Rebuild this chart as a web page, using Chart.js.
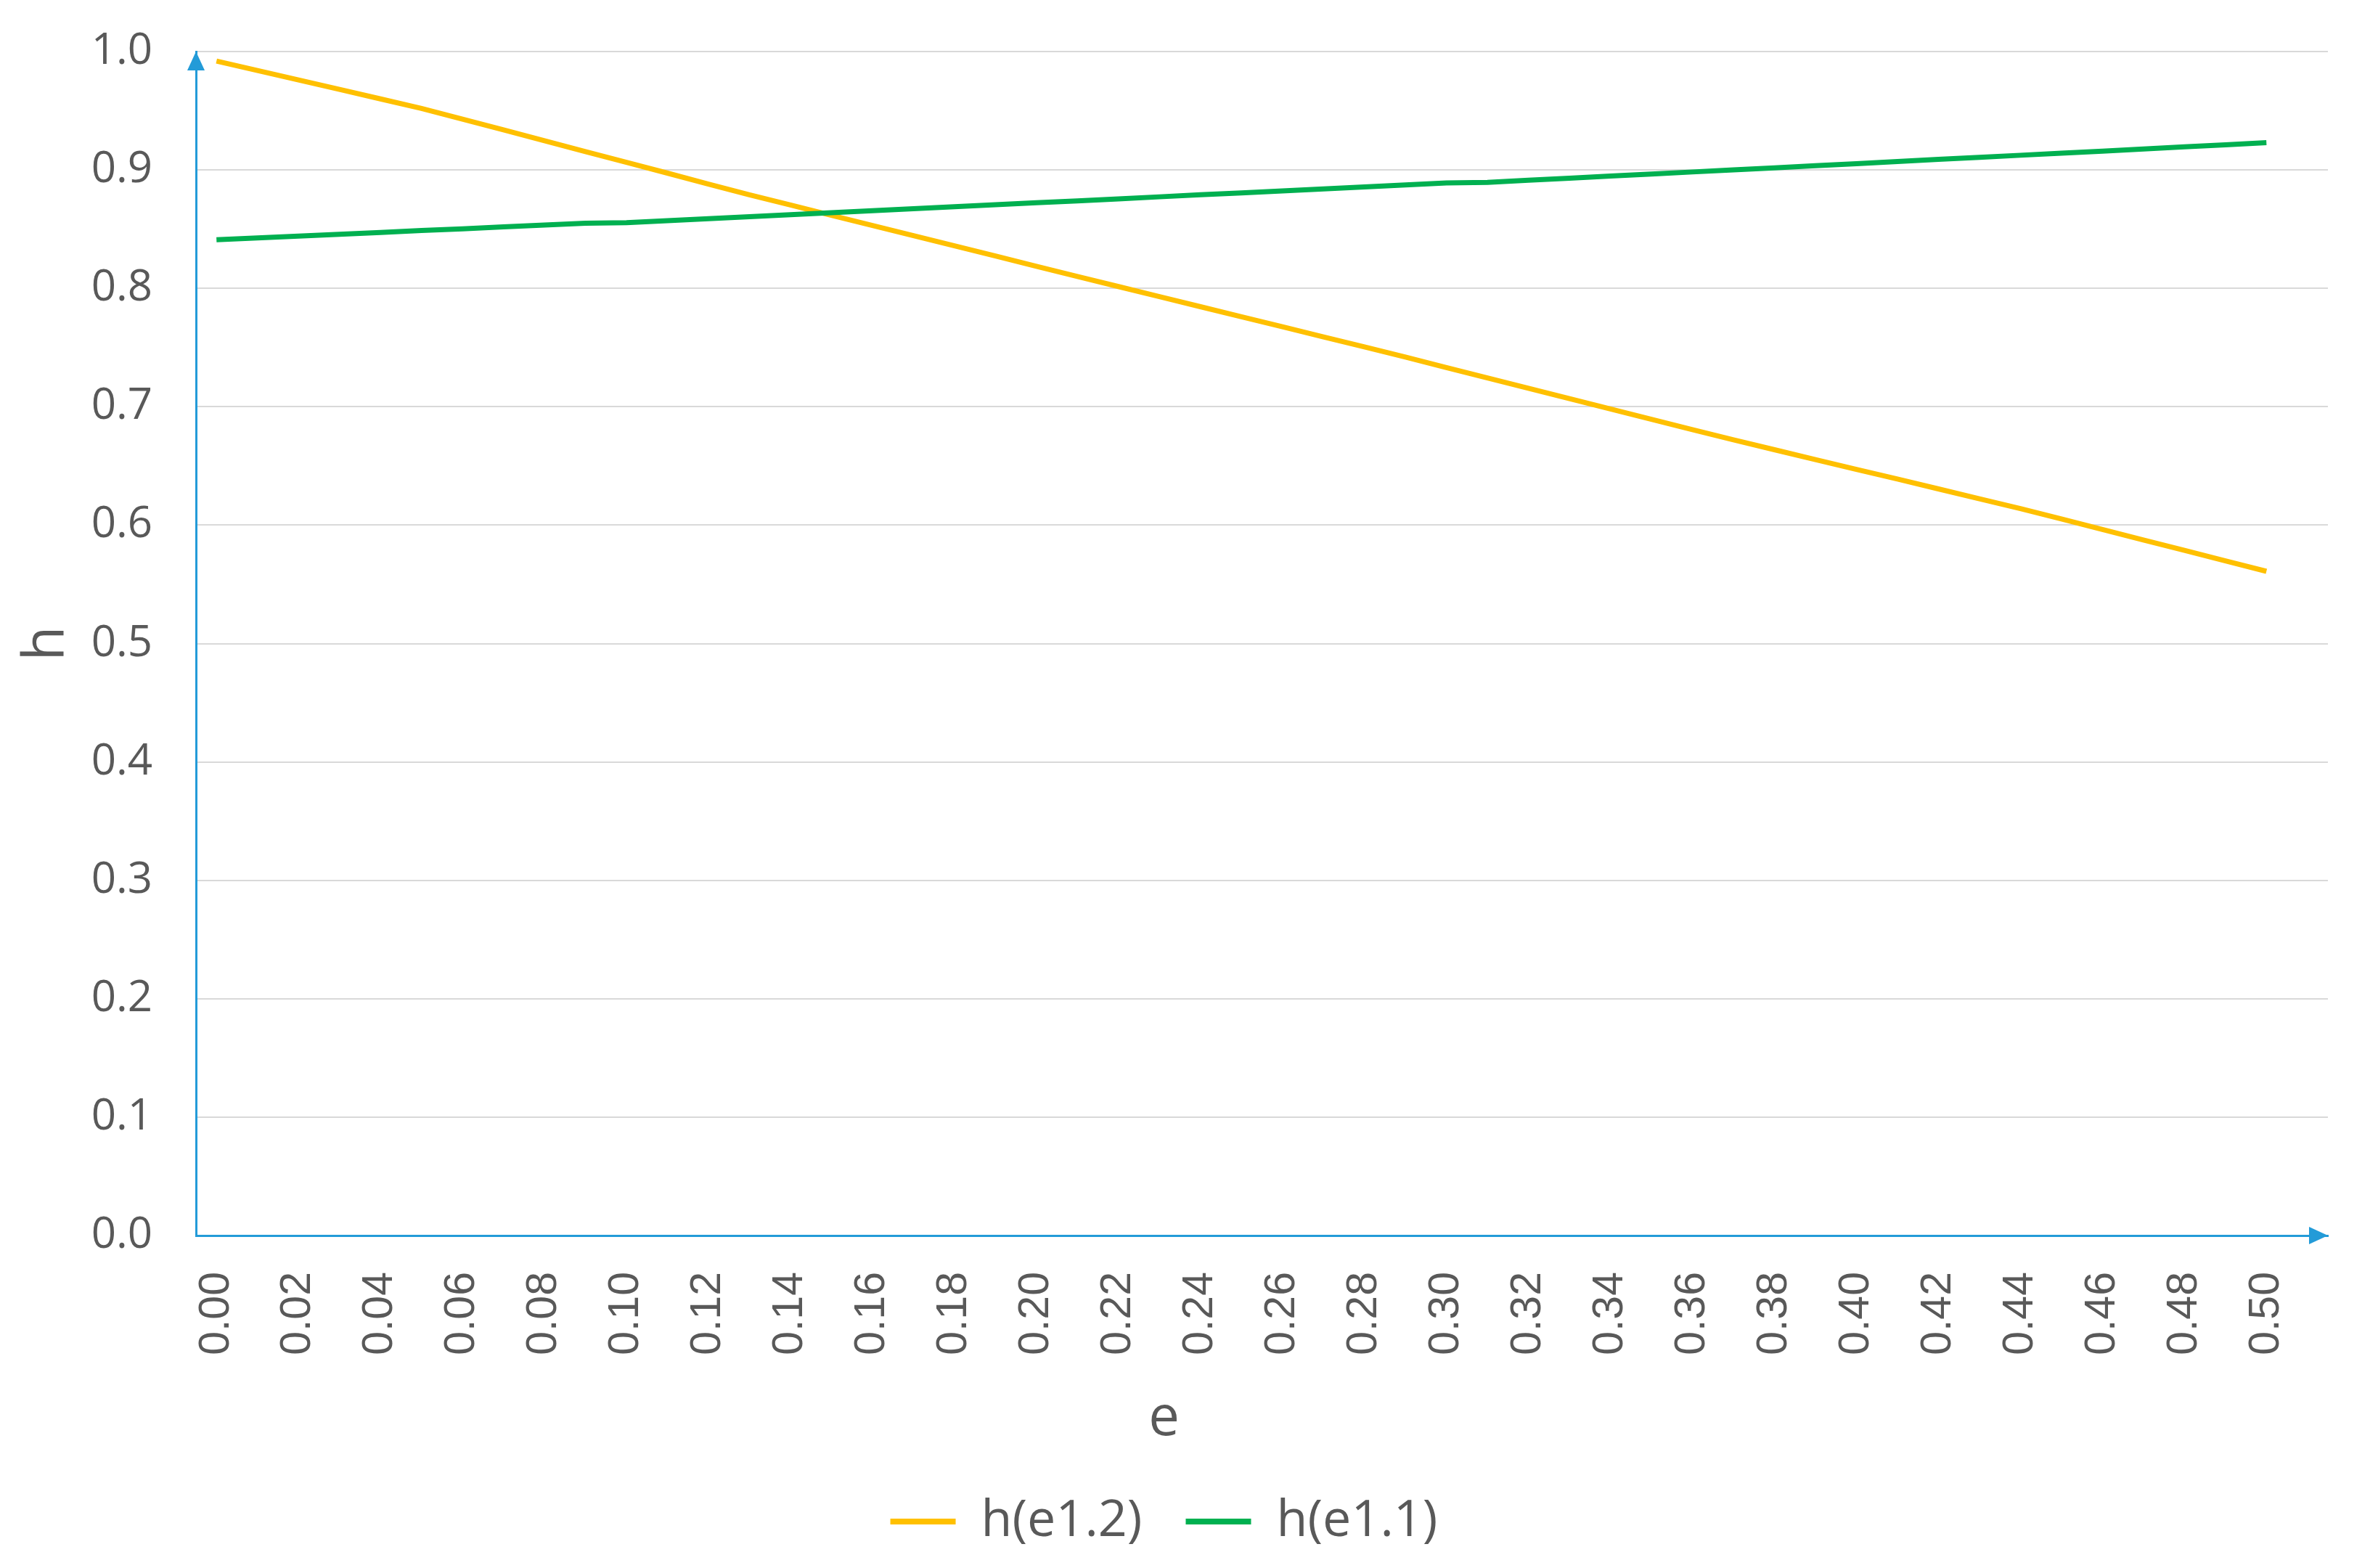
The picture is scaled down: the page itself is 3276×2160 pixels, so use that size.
<!DOCTYPE html>
<html>
<head>
<meta charset="utf-8">
<script src="https://cdn.jsdelivr.net/npm/chart.js@4/dist/chart.umd.min.js"></script>
<style>
  html, body { margin: 0; padding: 0; background: #fff; }
  #wrap { width: 3276px; height: 2160px; }
</style>
</head>
<body>
<div id="wrap"><canvas id="chart" width="3276" height="2160"></canvas></div>
<script>
const eValues = [0.00, 0.01, 0.02, 0.03, 0.04, 0.05, 0.06, 0.07, 0.08, 0.09,
  0.10, 0.11, 0.12, 0.13, 0.14, 0.15, 0.16, 0.17, 0.18, 0.19,
  0.20, 0.21, 0.22, 0.23, 0.24, 0.25, 0.26, 0.27, 0.28, 0.29,
  0.30, 0.31, 0.32, 0.33, 0.34, 0.35, 0.36, 0.37, 0.38, 0.39,
  0.40, 0.41, 0.42, 0.43, 0.44, 0.45, 0.46, 0.47, 0.48, 0.49, 0.50];

const hE12 = [0.9920, 0.9840, 0.9760, 0.9680, 0.9600, 0.9520, 0.9429, 0.9338, 0.9246, 0.9155,
  0.9064, 0.8973, 0.8881, 0.8790, 0.8704, 0.8617, 0.8531, 0.8445, 0.8359, 0.8273,
  0.8186, 0.8100, 0.8015, 0.7930, 0.7845, 0.7760, 0.7675, 0.7590, 0.7505, 0.7420,
  0.7330, 0.7243, 0.7156, 0.7069, 0.6981, 0.6894, 0.6807, 0.6720, 0.6637, 0.6554,
  0.6471, 0.6389, 0.6306, 0.6223, 0.6140, 0.6052, 0.5963, 0.5875, 0.5787, 0.5698, 0.5610];

const hE11 = [0.8410, 0.8426, 0.8441, 0.8457, 0.8472, 0.8488, 0.8503, 0.8519, 0.8534, 0.8550,
  0.8555, 0.8572, 0.8589, 0.8605, 0.8622, 0.8639, 0.8656, 0.8672, 0.8689, 0.8706,
  0.8723, 0.8739, 0.8756, 0.8773, 0.8790, 0.8806, 0.8823, 0.8840, 0.8857, 0.8873,
  0.8890, 0.8895, 0.8913, 0.8930, 0.8948, 0.8965, 0.8983, 0.9001, 0.9018, 0.9036,
  0.9053, 0.9071, 0.9089, 0.9106, 0.9124, 0.9142, 0.9159, 0.9177, 0.9195, 0.9212, 0.9230];

const xTicks = [0.00, 0.02, 0.04, 0.06, 0.08, 0.10, 0.12, 0.14, 0.16, 0.18, 0.20, 0.22, 0.24,
  0.26, 0.28, 0.30, 0.32, 0.34, 0.36, 0.38, 0.40, 0.42, 0.44, 0.46, 0.48, 0.50];
const yTicks = [0.0, 0.1, 0.2, 0.3, 0.4, 0.5, 0.6, 0.7, 0.8, 0.9, 1.0];

const seriesNames = ['h(e1.2)', 'h(e1.1)'];
const xTitle = 'e';
const yTitle = 'h';

const textColor = '#595959';
const axisBlue = '#239BD8';

// arrow heads on both axes + the x title (centred like the legend, not the plot)
const axisExtras = {
  id: 'axisExtras',
  afterDraw(chart) {
    const ctx = chart.ctx;
    const a = chart.chartArea;
    ctx.save();
    ctx.fillStyle = axisBlue;
    ctx.beginPath();
    ctx.moveTo(a.left, a.top);
    ctx.lineTo(a.left - 12, a.top + 26);
    ctx.lineTo(a.left + 12, a.top + 26);
    ctx.closePath();
    ctx.fill();
    ctx.beginPath();
    ctx.moveTo(a.right, a.bottom);
    ctx.lineTo(a.right - 26, a.bottom - 12);
    ctx.lineTo(a.right - 26, a.bottom + 12);
    ctx.closePath();
    ctx.fill();

    const lg = chart.legend;
    ctx.fillStyle = textColor;
    ctx.font = '76px "Open Sans"';
    ctx.textAlign = 'center';
    ctx.textBaseline = 'alphabetic';
    ctx.fillText(xTitle, (lg.left + lg.right) / 2, chart.scales.x.top + 275);
    ctx.restore();
  }
};

new Chart(document.getElementById('chart').getContext('2d'), {
  type: 'line',
  data: {
    datasets: [
      { label: seriesNames[0], data: eValues.map((e, i) => ({ x: e, y: hE12[i] })),
        borderColor: '#FFC000', backgroundColor: '#FFC000', borderWidth: 7, pointRadius: 0, order: 1 },
      { label: seriesNames[1], data: eValues.map((e, i) => ({ x: e, y: hE11[i] })),
        borderColor: '#00B050', backgroundColor: '#00B050', borderWidth: 7, pointRadius: 0, order: 0 }
    ]
  },
  options: {
    responsive: false,
    animation: false,
    layout: { padding: { top: 71, right: 69, bottom: 19, left: 0 } },
    plugins: {
      tooltip: { enabled: false },
      legend: {
        position: 'bottom',
        labels: {
          color: textColor,
          font: { family: '"Open Sans"', size: 70 },
          boxWidth: 90,
          boxHeight: 8,
          padding: 60,
          sort: (a, b) => a.datasetIndex - b.datasetIndex,
          generateLabels: (chart) => Chart.defaults.plugins.legend.labels.generateLabels(chart)
            .map(l => Object.assign(l, { lineWidth: 0, fillStyle: l.strokeStyle }))
        }
      }
    },
    scales: {
      x: {
        type: 'linear',
        min: -0.005,
        max: 0.515,
        afterBuildTicks: (s) => { s.ticks = xTicks.map(v => ({ value: v })); },
        afterFit: (s) => { s.height = 299; },
        grid: { display: false },
        border: { display: true, color: axisBlue, width: 3 },
        ticks: {
          color: textColor,
          font: { family: '"Liberation Sans"', size: 59 },
          minRotation: 90,
          maxRotation: 90,
          padding: 42,
          autoSkip: false,
          callback: (v) => v.toFixed(2)
        }
      },
      y: {
        min: 0,
        max: 1,
        afterBuildTicks: (s) => { s.ticks = yTicks.map(v => ({ value: v })); },
        afterFit: (s) => { s.width = 270; s.paddingTop = 0; s.paddingBottom = 0; },
        grid: { color: '#D9D9D9', lineWidth: 2, drawTicks: false },
        border: { display: true, color: axisBlue, width: 3 },
        ticks: {
          color: textColor,
          font: { family: '"Open Sans"', size: 60 },
          padding: 60,
          callback: (v) => v.toFixed(1)
        },
        title: {
          display: true,
          text: yTitle,
          color: textColor,
          font: { family: '"Open Sans"', size: 78 },
          padding: { top: 19, bottom: 0 }
        }
      }
    }
  },
  plugins: [axisExtras]
});
</script>
</body>
</html>
